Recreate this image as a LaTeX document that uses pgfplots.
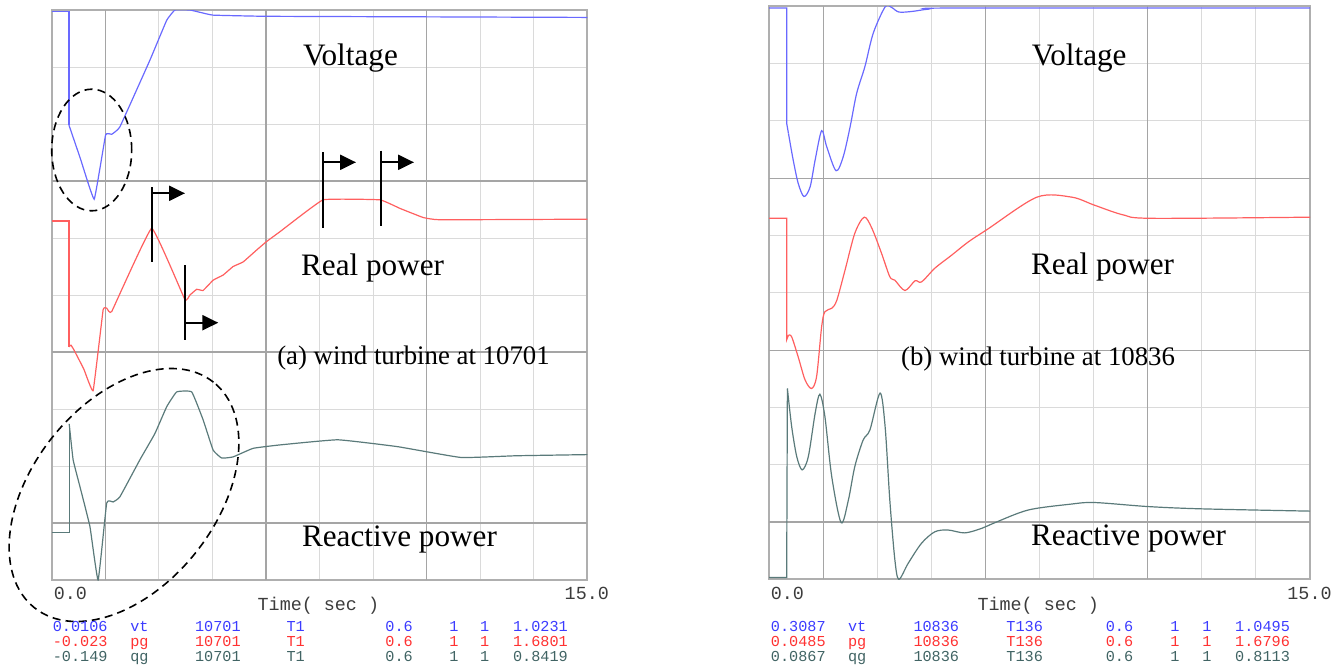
\documentclass[border=0pt]{standalone}
\usepackage{pgfplots}
\pgfplotsset{compat=1.18}
\usepackage{fontspec}
\setmainfont{Liberation Serif}
\setmonofont{Liberation Mono}
\usetikzlibrary{arrows.meta}

\definecolor{vtline}{RGB}{105,105,255}
\definecolor{pgline}{RGB}{255,95,95}
\definecolor{qgline}{RGB}{90,122,122}
\definecolor{vttext}{RGB}{60,60,255}
\definecolor{pgtext}{RGB}{255,50,50}
\definecolor{qgtext}{RGB}{65,100,100}
\definecolor{gridlt}{RGB}{218,218,218}
\definecolor{griddk}{RGB}{165,165,165}
\definecolor{frame}{RGB}{175,175,175}
\definecolor{axtext}{RGB}{60,60,60}

\pgfplotsset{
  psse/.style={
    scale only axis,
    xmin=0, xmax=15, ymin=0, ymax=10,
    xtick={0,1.5,3,4.5,6,7.5,9,10.5,12,13.5,15},
    ytick={0,1,...,10},
    xticklabels={}, yticklabels={},
    major tick length=0pt,
    grid=major,
    major grid style={gridlt, line width=0.5pt},
    extra x ticks={1.5,6,10.5},
    extra y ticks={1,4,7},
    extra x tick labels={}, extra y tick labels={},
    extra tick style={major tick length=0pt, grid=major,
      major grid style={griddk, line width=0.6pt}},
    axis line style={frame, line width=1pt},
    every axis plot/.append style={line width=0.6pt},
  },
}

\begin{document}
\begin{tikzpicture}

% (a) wind turbine at 10701
\begin{axis}[psse, at={(25.85pt,-290pt)}, anchor=south west,
  width=267.85pt, height=285pt]
\addplot[vtline] coordinates {(0,9.97) (0.484,9.97) (0.484,7.98)};
\addplot[vtline, smooth, tension=0.15] coordinates {
  (0.484,7.98) (0.8,7.40) (1.19,6.68) (1.51,7.81)
  (1.68,7.82) (1.91,7.95) (2.75,9.12) (3.22,9.82) (3.45,10.0) (3.87,10.0)
  (4.15,9.96) (4.52,9.91) (5.97,9.89) (10.5,9.88) (15,9.87)
};
\addplot[pgline] coordinates {(0,6.30) (0.484,6.30) (0.484,4.09)};
\addplot[pgline, smooth, tension=0.15] coordinates {
  (0.484,4.09) (0.54,4.12) (0.62,4.04) (0.90,3.70) (1.16,3.32)
  (1.44,4.74) (1.54,4.77) (1.68,4.71) (2.80,6.17) (3.73,4.92) (3.87,5.00)
  (4.06,5.10) (4.24,5.08) (4.52,5.26) (4.80,5.35) (5.08,5.50) (5.36,5.58)
  (5.74,5.79) (6.02,5.94) (6.39,6.11) (7.60,6.67) (9.19,6.67) (9.75,6.52)
  (10.40,6.36) (10.87,6.32) (15,6.33)
};
\addplot[qgline] coordinates {(0,0.83) (0.49,0.83) (0.49,2.74)};
\addplot[qgline, smooth, tension=0.2] coordinates {
  (0.49,2.74) (0.60,2.11) (0.79,1.64) (1.07,0.94)
  (1.30,0.0) (1.54,1.35) (1.72,1.37) (1.91,1.46) (2.47,2.11) (2.89,2.57)
  (3.22,3.04) (3.50,3.30) (3.92,3.30) (4.24,2.81) (4.52,2.28) (4.76,2.14)
  (5.08,2.16) (5.64,2.31) (6.39,2.37) (8.01,2.46) (9.68,2.34) (11.46,2.15)
  (13.01,2.18) (15,2.20)
};
\end{axis}

% (b) wind turbine at 10836
\begin{axis}[psse, at={(384.5pt,-289.65pt)}, anchor=south west,
  width=270.5pt, height=286.5pt]
\addplot[vtline] coordinates {(0,9.97) (0.49,9.97) (0.49,7.96) (0.54,7.78)};
\addplot[vtline, smooth, tension=0.5] coordinates {
  (0.54,7.78) (0.67,7.32) (0.81,6.91) (0.97,6.68) (1.14,6.85) (1.28,7.32)
  (1.46,7.83) (1.60,7.55) (1.86,7.13) (2.06,7.38) (2.25,7.90) (2.43,8.48)
  (2.66,8.95) (2.89,9.53) (3.22,9.99) (3.40,9.98) (3.60,9.90) (3.96,9.91)
  (4.42,9.95) (5.16,9.97) (15,9.97)
};
\addplot[pgline] coordinates {(0,6.30) (0.49,6.30) (0.49,4.18) (0.54,4.26)};
\addplot[pgline, smooth, tension=0.5] coordinates {
  (0.54,4.26) (0.63,4.23) (0.81,3.88) (1.00,3.48) (1.18,3.33) (1.32,3.54)
  (1.46,4.41) (1.55,4.67) (1.74,4.73) (1.88,4.87) (2.11,5.40) (2.38,6.04)
  (2.64,6.32) (2.85,6.13) (3.12,5.69) (3.35,5.28) (3.49,5.22) (3.77,5.04)
  (4.05,5.21) (4.23,5.19) (4.60,5.43) (5.07,5.66) (5.53,5.89) (6.06,6.11)
  (7.43,6.67) (8.39,6.67) (9.02,6.53) (9.82,6.36) (10.62,6.30) (15,6.32)
};
\addplot[qgline] coordinates {(0,0.03) (0.49,0.03) (0.51,3.33)};
\addplot[qgline, smooth, tension=0.5] coordinates {
  (0.51,3.33) (0.63,2.66) (0.77,2.14) (0.92,1.91) (1.09,2.14) (1.28,2.90)
  (1.41,3.23) (1.55,2.84) (1.74,1.79) (2.00,0.99) (2.20,1.38) (2.38,1.97)
  (2.61,2.43) (2.80,2.61) (3.08,3.25) (3.22,2.66) (3.35,1.38) (3.49,0.34)
  (3.60,0.0) (3.86,0.28) (4.23,0.63) (4.60,0.83) (4.97,0.86) (5.43,0.81)
  (5.90,0.89) (6.27,0.99) (7.19,1.21) (8.34,1.31) (9.02,1.34) (10.50,1.27)
  (11.98,1.23) (15,1.19)
};
\end{axis}

% annotations
\draw[line width=0.8pt, dash pattern=on 4pt off 2.6pt]
  (45.85pt,-75pt) ellipse [x radius=20pt, y radius=30.4pt];
\draw[line width=0.8pt, dash pattern=on 4pt off 2.6pt,
  rotate around={51.6:(62pt,-247.5pt)}]
  (62pt,-247.5pt) ellipse [x radius=72pt, y radius=46pt];

\begin{scope}[x=0.5pt,y=-0.5pt, line width=1.1pt]
  \draw (151.7,187) -- (151.7,262);
  \draw[-{Triangle[length=8pt,width=7.5pt]}] (151.7,193.3) -- (185,193.3);
  \draw (185,265) -- (185,340);
  \draw[-{Triangle[length=8pt,width=7.5pt]}] (185,322.7) -- (218.3,322.7);
  \draw (323.3,152.3) -- (323.3,228.3);
  \draw[-{Triangle[length=8pt,width=7.5pt]}] (323.3,162.3) -- (356,162.3);
  \draw (381,150.7) -- (381,226);
  \draw[-{Triangle[length=8pt,width=7.5pt]}] (381,162.3) -- (414,162.3);

  \tikzset{lbl/.style={anchor=base west, inner sep=0pt,
      font=\fontsize{15.6pt}{18pt}\selectfont},
    captxt/.style={anchor=base west, inner sep=0pt,
      font=\fontsize{13.4pt}{16pt}\selectfont}}
  \node[lbl] at (302,65) {Voltage};
  \node[lbl] at (300,275) {Real power};
  \node[lbl] at (300.9,546) {Reactive power};
  \node[captxt] at (276.2,364.3) {(a) wind turbine at 10701};
  \node[lbl] at (1030.7,65) {Voltage};
  \node[lbl] at (1030,274) {Real power};
  \node[lbl] at (1030,545) {Reactive power};
  \node[captxt] at (900,365) {(b) wind turbine at 10836};

  \tikzset{mono/.style={inner sep=0pt, text=axtext,
      font=\ttfamily\fontsize{9.2pt}{11pt}\selectfont}}
  \node[mono, anchor=base west] at (52.8,599) {0.0};
  \node[mono, anchor=base east] at (610,599) {15.0};
  \node[mono, anchor=base] at (318.4,610) {Time( sec )};
  \node[mono, anchor=base west] at (769.8,599) {0.0};
  \node[mono, anchor=base east] at (1332.7,599) {15.0};
  \node[mono, anchor=base] at (1038.3,610) {Time( sec )};

  \tikzset{tab/.style={anchor=base west, inner sep=0pt,
      font=\ttfamily\fontsize{7.6pt}{9pt}\selectfont}}
  % left table
  \foreach \c/\x in {0.0106/51.7, vt/129.2, 10701/194, T1/285.4, 0.6/384.3, 1/448.3, 1/479, 1.0231/512}
    \node[tab, text=vttext] at (\x,631.5) {\c};
  \foreach \c/\x in {-0.023/51.7, pg/129.2, 10701/194, T1/285.4, 0.6/384.3, 1/448.3, 1/479, 1.6801/512}
    \node[tab, text=pgtext] at (\x,646.5) {\c};
  \foreach \c/\x in {-0.149/51.7, qg/129.2, 10701/194, T1/285.4, 0.6/384.3, 1/448.3, 1/479, 0.8419/512}
    \node[tab, text=qgtext] at (\x,661) {\c};
  % right table
  \foreach \c/\x in {0.3087/769.8, vt/847, 10836/912.4, T136/1005.3, 0.6/1104.7, 1/1169.2, 1/1201.2, 1.0495/1234.1}
    \node[tab, text=vttext] at (\x,631.5) {\c};
  \foreach \c/\x in {0.0485/769.8, pg/847, 10836/912.4, T136/1005.3, 0.6/1104.7, 1/1169.2, 1/1201.2, 1.6796/1234.1}
    \node[tab, text=pgtext] at (\x,646.5) {\c};
  \foreach \c/\x in {0.0867/769.8, qg/847, 10836/912.4, T136/1005.3, 0.6/1104.7, 1/1169.2, 1/1201.2, 0.8113/1234.1}
    \node[tab, text=qgtext] at (\x,661) {\c};
\end{scope}

\pgfresetboundingbox
\path[use as bounding box] (0pt,0pt) rectangle (670.5pt,-333pt);
\end{tikzpicture}
\end{document}
